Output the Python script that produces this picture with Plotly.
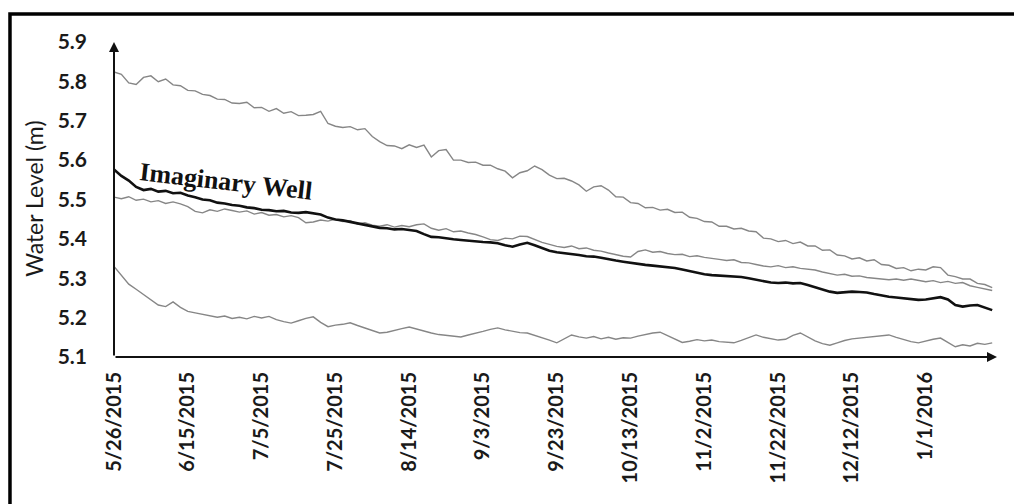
import pandas as pd
import plotly.graph_objects as go

start = pd.Timestamp("2015-05-26")

well_top = [5.824, 5.818, 5.796, 5.792, 5.810, 5.814, 5.799, 5.806, 5.791, 5.789,
            5.777, 5.776, 5.767, 5.764, 5.755, 5.754, 5.745, 5.744, 5.747, 5.733,
            5.734, 5.724, 5.731, 5.719, 5.723, 5.713, 5.714, 5.716, 5.724, 5.693,
            5.686, 5.683, 5.685, 5.677, 5.680, 5.660, 5.647, 5.637, 5.636, 5.629,
            5.639, 5.632, 5.638, 5.608, 5.624, 5.627, 5.600, 5.600, 5.594, 5.595,
            5.587, 5.587, 5.578, 5.572, 5.555, 5.568, 5.573, 5.585, 5.576, 5.562,
            5.553, 5.554, 5.547, 5.537, 5.521, 5.532, 5.535, 5.524, 5.507, 5.506,
            5.492, 5.490, 5.479, 5.480, 5.473, 5.475, 5.467, 5.468, 5.455, 5.452,
            5.444, 5.443, 5.432, 5.432, 5.425, 5.427, 5.420, 5.418, 5.402, 5.400,
            5.393, 5.396, 5.388, 5.392, 5.382, 5.382, 5.371, 5.372, 5.359, 5.357,
            5.349, 5.352, 5.344, 5.347, 5.335, 5.333, 5.325, 5.327, 5.319, 5.323,
            5.321, 5.329, 5.327, 5.308, 5.304, 5.298, 5.298, 5.287, 5.284, 5.276]

well_second = [5.506, 5.502, 5.507, 5.498, 5.501, 5.494, 5.497, 5.490, 5.494, 5.489,
               5.482, 5.470, 5.466, 5.474, 5.470, 5.476, 5.472, 5.468, 5.471, 5.463,
               5.467, 5.460, 5.462, 5.456, 5.459, 5.454, 5.441, 5.443, 5.448, 5.445,
               5.450, 5.444, 5.446, 5.438, 5.441, 5.435, 5.432, 5.436, 5.430, 5.434,
               5.431, 5.436, 5.438, 5.427, 5.422, 5.426, 5.418, 5.420, 5.415, 5.411,
               5.405, 5.398, 5.396, 5.402, 5.400, 5.407, 5.406, 5.398, 5.391, 5.386,
               5.381, 5.378, 5.382, 5.375, 5.377, 5.371, 5.369, 5.364, 5.360, 5.356,
               5.354, 5.368, 5.372, 5.366, 5.368, 5.363, 5.360, 5.361, 5.355, 5.357,
               5.353, 5.351, 5.348, 5.345, 5.347, 5.340, 5.339, 5.335, 5.331, 5.329,
               5.332, 5.327, 5.329, 5.325, 5.323, 5.321, 5.316, 5.312, 5.308, 5.310,
               5.305, 5.306, 5.302, 5.300, 5.298, 5.296, 5.298, 5.295, 5.298, 5.295,
               5.291, 5.294, 5.289, 5.292, 5.287, 5.289, 5.281, 5.277, 5.273, 5.269]

imaginary_well = [5.576, 5.560, 5.548, 5.532, 5.524, 5.527, 5.520, 5.522, 5.516, 5.517,
                  5.510, 5.506, 5.500, 5.498, 5.492, 5.490, 5.486, 5.484, 5.480, 5.478,
                  5.474, 5.473, 5.470, 5.471, 5.467, 5.466, 5.468, 5.465, 5.462, 5.454,
                  5.449, 5.447, 5.443, 5.440, 5.436, 5.432, 5.428, 5.427, 5.424, 5.425,
                  5.423, 5.420, 5.412, 5.405, 5.404, 5.401, 5.399, 5.397, 5.395, 5.394,
                  5.392, 5.391, 5.389, 5.384, 5.380, 5.386, 5.390, 5.384, 5.376, 5.370,
                  5.366, 5.364, 5.361, 5.359, 5.356, 5.355, 5.352, 5.348, 5.345, 5.342,
                  5.339, 5.337, 5.334, 5.332, 5.330, 5.328, 5.326, 5.322, 5.318, 5.314,
                  5.310, 5.308, 5.307, 5.305, 5.304, 5.303, 5.300, 5.296, 5.292, 5.289,
                  5.288, 5.289, 5.287, 5.288, 5.283, 5.277, 5.271, 5.266, 5.263, 5.264,
                  5.266, 5.265, 5.264, 5.260, 5.256, 5.253, 5.251, 5.249, 5.247, 5.245,
                  5.246, 5.249, 5.252, 5.246, 5.232, 5.228, 5.231, 5.232, 5.225, 5.219]

well_bottom = [5.330, 5.308, 5.285, 5.272, 5.258, 5.246, 5.232, 5.228, 5.240, 5.226,
               5.216, 5.212, 5.208, 5.204, 5.201, 5.204, 5.198, 5.201, 5.197, 5.203,
               5.199, 5.203, 5.195, 5.190, 5.186, 5.192, 5.198, 5.202, 5.188, 5.177,
               5.181, 5.183, 5.187, 5.180, 5.173, 5.167, 5.161, 5.163, 5.168, 5.172,
               5.176, 5.171, 5.165, 5.161, 5.157, 5.155, 5.152, 5.151, 5.156, 5.160,
               5.165, 5.170, 5.174, 5.169, 5.165, 5.162, 5.161, 5.155, 5.150, 5.143,
               5.136, 5.147, 5.156, 5.151, 5.148, 5.152, 5.146, 5.150, 5.145, 5.149,
               5.148, 5.153, 5.157, 5.161, 5.163, 5.155, 5.146, 5.137, 5.140, 5.144,
               5.141, 5.143, 5.139, 5.137, 5.136, 5.142, 5.149, 5.156, 5.150, 5.146,
               5.143, 5.145, 5.155, 5.161, 5.150, 5.141, 5.134, 5.130, 5.136, 5.142,
               5.146, 5.148, 5.151, 5.152, 5.155, 5.156, 5.150, 5.144, 5.139, 5.136,
               5.141, 5.145, 5.148, 5.137, 5.126, 5.131, 5.128, 5.135, 5.132, 5.136]

dates = pd.date_range(start, periods=len(imaginary_well), freq="2D")

tick_labels = ["5/26/2015", "6/15/2015", "7/5/2015", "7/25/2015", "8/14/2015",
               "9/3/2015", "9/23/2015", "10/13/2015", "11/2/2015", "11/22/2015",
               "12/12/2015", "1/1/2016"]
tick_dates = pd.date_range(start, periods=len(tick_labels), freq="20D")

GRAY = "#868686"
fig = go.Figure()
for vals in (well_top, well_second, well_bottom):
    fig.add_trace(go.Scatter(x=dates, y=vals, mode="lines",
                             line=dict(color=GRAY, width=1.4), showlegend=False))
fig.add_trace(go.Scatter(x=dates, y=imaginary_well, mode="lines",
                         line=dict(color="#111111", width=2.6), showlegend=False))

x_end = start + pd.Timedelta(days=239.3)
fig.update_xaxes(range=[start, x_end], tickvals=tick_dates, ticktext=tick_labels,
                 tickangle=-90, showgrid=False, zeroline=False, showline=False,
                 ticks="", ticklabelstandoff=10,
                 tickfont=dict(family="Lato", size=20, color="#1a1a1a", weight="bold"))
fig.update_yaxes(range=[5.1, 5.9], dtick=0.1, tickformat=".1f", showgrid=False,
                 zeroline=False, showline=False, ticks="", ticklabelstandoff=26,
                 tickfont=dict(family="Lato", size=21, color="#1a1a1a", weight="bold"))

ann = [
    dict(x=0, y=1, xref="paper", yref="paper", ax=0, ay=315, axref="pixel", ayref="pixel",
         showarrow=True, arrowhead=2, arrowsize=1, arrowwidth=2, arrowcolor="#111",
         text="", standoff=0, startstandoff=0),
    dict(x=1, y=0, xref="paper", yref="paper", ax=-883, ay=0,
         showarrow=True, arrowhead=2, arrowsize=1, arrowwidth=2, arrowcolor="#111",
         text="", standoff=0, startstandoff=0),
    dict(x=-0.0906, y=0.502, xref="paper", yref="paper", text="Water Level (m)",
         showarrow=False, textangle=-90, xanchor="center", yanchor="middle",
         font=dict(family="Lato", size=23, color="#1a1a1a")),
    dict(x=0.1268, y=0.5556, xref="paper", yref="paper", text="<b>Imaginary Well</b>",
         showarrow=False, textangle=6.5, xanchor="center", yanchor="middle",
         font=dict(family="Liberation Serif", size=26, color="#111")),
]
fig.update_layout(
    width=1014, height=504,
    margin=dict(l=114, r=17, t=42, b=147),
    paper_bgcolor="white", plot_bgcolor="white",
    annotations=ann,
    shapes=[dict(type="rect", xref="paper", yref="paper",
                 x0=-0.1178, x1=1.3, y0=-0.9, y1=1.0889,
                 line=dict(color="black", width=3.5), layer="above")],
)
fig.write_html("out.html", config={"displayModeBar": False},
               post_script="document.body.style.margin='0';")
